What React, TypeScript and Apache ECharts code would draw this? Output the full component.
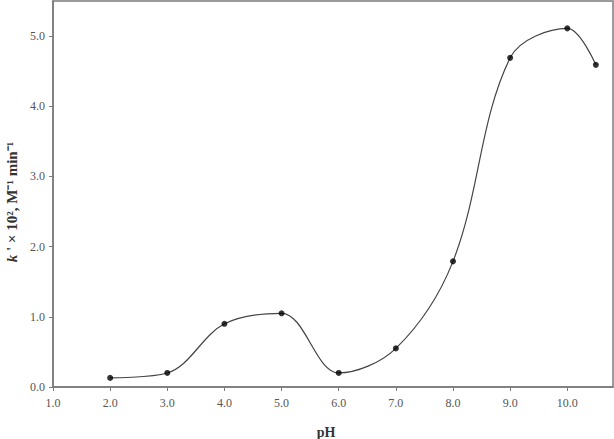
import React, { useEffect, useRef } from "react";
import * as echarts from "echarts";

const pH = [2.0, 3.0, 4.0, 5.0, 6.0, 7.0, 8.0, 9.0, 10.0, 10.5];
const kValues = [0.13, 0.2, 0.9, 1.05, 0.2, 0.55, 1.79, 4.69, 5.11, 4.59];

export default function App() {
  const ref = useRef<HTMLDivElement>(null);
  useEffect(() => {
    if (!ref.current) return;
    const chart = echarts.init(ref.current, null, { renderer: "svg" });
    const pts = pH.map((x, i) => [x, kValues[i]]);
    const axisColor = "#7a7a7a";
    const labelStyle = {
      fontFamily: "Liberation Serif",
      fontSize: 12,
      color: "#555",
    };
    chart.setOption({
      animation: false,
      backgroundColor: "#fff",
      grid: {
        left: 53,
        right: 1,
        top: 1,
        bottom: 52,
        containLabel: false,
        outerBoundsMode: "none",
        show: true,
        borderColor: axisColor,
        borderWidth: 1.5,
      },
      xAxis: {
        type: "value",
        min: 1,
        max: 10.8,
        interval: 1,
        name: "pH",
        nameLocation: "middle",
        nameGap: 38,
        nameTextStyle: {
          fontFamily: "Liberation Serif",
          fontSize: 14,
          fontWeight: "bold",
          color: "#333",
          padding: [0, 0, 0, -14],
        },
        axisLine: { show: true, lineStyle: { color: axisColor, width: 1.5 } },
        axisTick: { show: true, inside: false, length: 4, lineStyle: { color: axisColor } },
        axisLabel: {
          ...labelStyle,
          margin: 10,
          showMaxLabel: false,
          formatter: (v: number) => v.toFixed(1),
        },
        splitLine: { show: false },
      },
      yAxis: {
        type: "value",
        min: 0,
        max: 5.5,
        interval: 1,
        name: "{i|k}{b| ' × 10², M⁻¹ min⁻¹}{s|}",
        nameLocation: "middle",
        nameGap: 34,
        nameRotate: 90,
        nameTextStyle: {
          rich: {
            i: {
              fontFamily: "Liberation Serif",
              fontSize: 15,
              fontWeight: "bold",
              fontStyle: "italic",
              color: "#333",
            },
            b: {
              fontFamily: "Liberation Serif",
              fontSize: 15,
              fontWeight: "bold",
              color: "#333",
            },
            s: { width: 16 },
          },
        },
        axisLine: { show: true, lineStyle: { color: axisColor, width: 1.5 } },
        axisTick: { show: true, inside: false, length: 4, lineStyle: { color: axisColor } },
        axisLabel: {
          ...labelStyle,
          margin: 8,
          showMaxLabel: false,
          formatter: (v: number) => v.toFixed(1),
        },
        splitLine: { show: false },
      },
      series: [
        {
          type: "line",
          data: pts,
          smooth: 0.35,
          showSymbol: false,
          lineStyle: { color: "#444", width: 1.2 },
          z: 2,
        },
        {
          type: "scatter",
          data: pts,
          symbol: "circle",
          symbolSize: 6,
          itemStyle: { color: "#000" },
          z: 3,
        },
      ],
    });
    return () => chart.dispose();
  }, []);
  return (
    <div
      ref={ref}
      style={{ position: "fixed", left: 0, top: 0, width: 614, height: 439 }}
    />
  );
}
